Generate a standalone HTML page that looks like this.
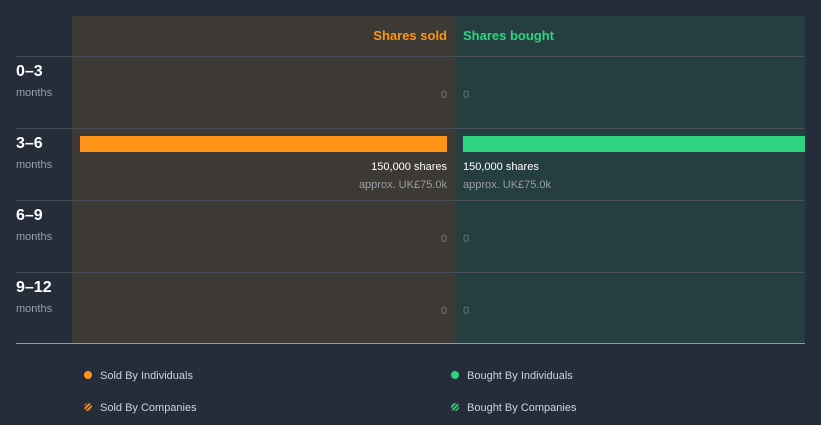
<!DOCTYPE html>
<html><head><meta charset="utf-8"><style>
body{margin:0;background:#262d3a;width:821px;height:420px;overflow:hidden;font-family:"Liberation Sans",sans-serif}
svg text{font-family:"Liberation Sans",sans-serif}
</style></head><body>
<svg id="c" width="821" height="420">
<defs>
<pattern id="ho" width="3" height="3" patternUnits="userSpaceOnUse" patternTransform="rotate(45)"><rect width="1.8" height="3" fill="#ff9316"/></pattern>
<pattern id="hg" width="3" height="3" patternUnits="userSpaceOnUse" patternTransform="rotate(45)"><rect width="1.8" height="3" fill="#2ed47f"/></pattern>
</defs>
<rect x="72" y="16" width="383" height="327" fill="#3d3935"/>
<rect x="455" y="16" width="350" height="327" fill="#253f40"/>
<text x="447" y="40" text-anchor="end" font-size="13" font-weight="bold" fill="#ff9316">Shares sold</text>
<text x="463" y="40" font-size="13" font-weight="bold" fill="#2ed47f">Shares bought</text>
<g id="rows"></g>
<line x1="16" y1="343.5" x2="805" y2="343.5" stroke="#9a9a9a" stroke-width="1"/>
<g>
<circle cx="88" cy="375" r="4" fill="#ff9316"/>
<text x="100" y="379" font-size="11" fill="#d0d3d8">Sold By Individuals</text>
<circle cx="455" cy="375" r="4" fill="#2ed47f"/>
<text x="467" y="379" font-size="11" fill="#d0d3d8">Bought By Individuals</text>
<circle cx="88" cy="407" r="4" fill="url(#ho)"/>
<text x="100" y="411" font-size="11" fill="#d0d3d8">Sold By Companies</text>
<circle cx="455" cy="407" r="4" fill="url(#hg)"/>
<text x="467" y="411" font-size="11" fill="#d0d3d8">Bought By Companies</text>
</g>
</svg>
<script>
const periods=["0–3","3–6","6–9","9–12"];
const sold=[0,150000,0,0];
const bought=[0,150000,0,0];
const soldValue=["","approx. UK£75.0k","",""];
const boughtValue=["","approx. UK£75.0k","",""];
const maxV=150000;
const NS="http://www.w3.org/2000/svg";
const g=document.getElementById('rows');
function el(t,a,txt){const e=document.createElementNS(NS,t);for(const k in a)e.setAttribute(k,a[k]);if(txt!==undefined)e.textContent=txt;g.appendChild(e);return e;}
const rowY=i=>56+i*72;
const soldW=v=>v/maxV*367;
const boughtW=v=>v/maxV*342;
const fmt=v=>v.toLocaleString('en-US')+' shares';
periods.forEach((p,i)=>{
  const y=rowY(i);
  let e=el('line',{x1:16,y1:y+0.5,x2:805,y2:y+0.5,stroke:'#4a4f57'});
  
  
  e=el('text',{x:16,y:y+20,'font-size':16,'font-weight':'bold',fill:'#ffffff'},p);
  
  
  e=el('text',{x:16,y:y+40,'font-size':11,fill:'#9a9ea6'},'months');
  
  
  if(sold[i]>0){
    const w=soldW(sold[i]);
    e=el('rect',{x:447-w,y:y+80-rowY(i)+rowY(i)-72+72+8-80,width:w,height:16,fill:'#ff9316'});
    e.setAttribute('y',y+8);
    
    
    e=el('text',{x:447,y:y+114-72+0,'font-size':11,fill:'#ffffff','text-anchor':'end'},fmt(sold[i]));
    e.setAttribute('y',y+42);
    
    
    e=el('text',{x:447,y:y+60,'font-size':11,fill:'#9a9ea6','text-anchor':'end'},soldValue[i]);
    
    
  } else {
    e=el('text',{x:447,y:y+42,'font-size':11,fill:'#777','text-anchor':'end'},'0');
    
    
  }
  if(bought[i]>0){
    const w=boughtW(bought[i]);
    e=el('rect',{x:463,y:y+8,width:w,height:16,fill:'#2ed47f'});
    
    
    e=el('text',{x:463,y:y+42,'font-size':11,fill:'#ffffff'},fmt(bought[i]));
    
    
    e=el('text',{x:463,y:y+60,'font-size':11,fill:'#9a9ea6'},boughtValue[i]);
    
    
  } else {
    e=el('text',{x:463,y:y+42,'font-size':11,fill:'#777'},'0');
    
    
  }
});
</script>
</body></html>
